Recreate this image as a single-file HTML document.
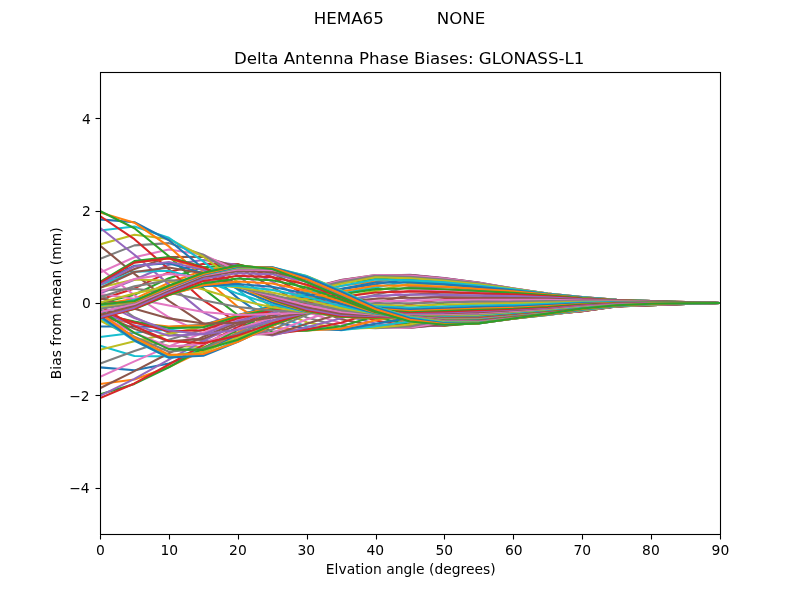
<!DOCTYPE html>
<html lang="en"><head><meta charset="utf-8"><title>Delta Antenna Phase Biases: GLONASS-L1</title>
<style>html,body{margin:0;padding:0;background:#fff;overflow:hidden}svg{display:block}text{font-family:"DejaVu Sans","Liberation Sans",sans-serif;fill:#000;white-space:pre}.s{font-size:13.889px}.b{font-size:16.667px}.ln{fill:none;stroke-width:2.0833;stroke-linejoin:round;stroke-linecap:square}.fr{fill:#000;shape-rendering:crispEdges}</style></head>
<body>
<svg width="800" height="600" viewBox="0 0 800 600">
<rect width="800" height="600" fill="#fff"/>
<defs><clipPath id="ax"><rect x="100" y="72" width="620" height="462"/></clipPath></defs>
<g clip-path="url(#ax)">
<polyline class="ln" stroke="#1f77b4" points="100.00,304.55 134.44,301.01 168.89,285.68 203.33,272.69 237.78,265.39 272.22,268.94 306.67,281.94 341.11,296.76 375.56,311.41 410.00,321.44 444.44,324.75 478.89,323.40 513.33,318.48 547.78,313.61 582.22,308.50 616.67,305.30 651.11,303.72 685.56,303.21 720.00,303.00"/>
<polyline class="ln" stroke="#ff7f0e" points="100.00,304.44 134.44,298.89 168.89,282.72 203.33,270.45 237.78,264.69 272.22,270.74 306.67,285.60 341.11,300.50 375.56,314.19 410.00,323.18 444.44,325.29 478.89,323.22 513.33,318.07 547.78,312.96 582.22,308.00 616.67,305.02 651.11,303.55 685.56,303.12 720.00,303.00"/>
<polyline class="ln" stroke="#2ca02c" points="100.00,303.07 134.44,294.80 168.89,278.17 203.33,267.36 237.78,264.19 272.22,273.38 306.67,290.03 341.11,304.88 375.56,317.33 410.00,324.89 444.44,325.59 478.89,322.75 513.33,317.45 547.78,312.19 582.22,307.48 616.67,304.72 651.11,303.38 685.56,303.03 720.00,303.00"/>
<polyline class="ln" stroke="#d62728" points="100.00,299.61 134.44,288.41 168.89,272.07 203.33,263.71 237.78,264.22 272.22,276.97 306.67,295.09 341.11,309.64 375.56,320.55 410.00,326.39 444.44,325.51 478.89,321.92 513.33,316.59 547.78,311.34 582.22,306.95 616.67,304.41 651.11,303.22 685.56,302.95 720.00,303.00"/>
<polyline class="ln" stroke="#9467bd" points="100.00,293.48 134.44,279.70 168.89,264.80 203.33,259.97 237.78,265.12 272.22,281.57 306.67,300.61 341.11,314.52 375.56,323.53 410.00,327.47 444.44,324.96 478.89,320.70 513.33,315.49 547.78,310.40 582.22,306.39 616.67,304.09 651.11,303.05 685.56,302.87 720.00,303.00"/>
<polyline class="ln" stroke="#8c564b" points="100.00,284.40 134.44,269.06 168.89,256.97 203.33,256.78 237.78,267.21 272.22,287.16 306.67,306.37 341.11,319.20 375.56,325.96 410.00,327.94 444.44,323.85 478.89,319.07 513.33,314.14 547.78,309.41 582.22,305.82 616.67,303.77 651.11,302.90 685.56,302.80 720.00,303.00"/>
<polyline class="ln" stroke="#e377c2" points="100.00,272.61 134.44,257.25 168.89,249.43 203.33,254.80 237.78,270.71 272.22,293.61 306.67,312.09 341.11,323.36 375.56,327.59 410.00,327.65 444.44,322.16 478.89,317.04 513.33,312.56 547.78,308.36 582.22,305.24 616.67,303.45 651.11,302.74 685.56,302.73 720.00,303.00"/>
<polyline class="ln" stroke="#7f7f7f" points="100.00,258.84 134.44,245.35 168.89,243.12 203.33,254.63 237.78,275.73 272.22,300.67 306.67,317.48 341.11,326.72 375.56,328.23 410.00,326.49 444.44,319.89 478.89,314.67 513.33,310.78 547.78,307.28 582.22,304.66 616.67,303.13 651.11,302.59 685.56,302.66 720.00,303.00"/>
<polyline class="ln" stroke="#bcbd22" points="100.00,244.31 134.44,234.67 168.89,239.00 203.33,256.73 237.78,282.16 272.22,308.01 306.67,322.27 341.11,329.05 375.56,327.77 410.00,324.44 444.44,317.09 478.89,312.02 513.33,308.84 547.78,306.17 582.22,304.06 616.67,302.81 651.11,302.45 685.56,302.60 720.00,303.00"/>
<polyline class="ln" stroke="#17becf" points="100.00,230.57 134.44,226.55 168.89,237.86 203.33,261.35 237.78,289.76 272.22,315.22 306.67,326.17 341.11,330.20 375.56,326.22 410.00,321.53 444.44,313.84 478.89,309.20 513.33,306.81 547.78,305.05 582.22,303.47 616.67,302.49 651.11,302.31 685.56,302.55 720.00,303.00"/>
<polyline class="ln" stroke="#1f77b4" points="100.00,219.37 134.44,222.22 168.89,240.27 203.33,268.45 237.78,298.12 272.22,321.84 306.67,328.98 341.11,330.08 375.56,323.69 410.00,317.88 444.44,310.28 478.89,306.30 513.33,304.74 547.78,303.91 582.22,302.87 616.67,302.19 651.11,302.19 685.56,302.50 720.00,303.00"/>
<polyline class="ln" stroke="#ff7f0e" points="100.00,212.39 134.44,222.63 168.89,246.45 203.33,277.73 237.78,306.73 272.22,327.46 306.67,330.52 341.11,328.71 375.56,320.33 410.00,313.63 444.44,306.54 478.89,303.41 513.33,302.71 547.78,302.77 582.22,302.29 616.67,301.89 651.11,302.06 685.56,302.45 720.00,303.00"/>
<polyline class="ln" stroke="#2ca02c" points="100.00,211.00 134.44,228.29 168.89,256.26 203.33,288.63 237.78,315.03 272.22,331.73 306.67,330.72 341.11,326.18 375.56,316.37 410.00,309.00 444.44,302.76 478.89,300.63 513.33,300.77 547.78,301.65 582.22,301.72 616.67,301.60 651.11,301.95 685.56,302.41 720.00,303.00"/>
<polyline class="ln" stroke="#d62728" points="100.00,216.06 134.44,239.17 168.89,269.18 203.33,300.45 237.78,322.51 272.22,334.41 306.67,329.59 341.11,322.65 375.56,312.03 410.00,304.18 444.44,299.07 478.89,298.03 513.33,298.97 547.78,300.56 582.22,301.17 616.67,301.33 651.11,301.84 685.56,302.37 720.00,303.00"/>
<polyline class="ln" stroke="#9467bd" points="100.00,227.75 134.44,254.73 168.89,284.38 203.33,312.36 237.78,328.73 272.22,335.40 306.67,327.23 341.11,318.34 375.56,307.53 410.00,299.39 444.44,295.59 478.89,295.64 513.33,297.34 547.78,299.52 582.22,300.64 616.67,301.07 651.11,301.74 685.56,302.34 720.00,303.00"/>
<polyline class="ln" stroke="#8c564b" points="100.00,245.55 134.44,273.93 168.89,300.81 203.33,323.57 237.78,333.42 272.22,334.78 306.67,323.81 341.11,313.47 375.56,303.06 410.00,294.81 444.44,292.38 478.89,293.49 513.33,295.90 547.78,298.54 582.22,300.14 616.67,300.84 651.11,301.64 685.56,302.31 720.00,303.00"/>
<polyline class="ln" stroke="#e377c2" points="100.00,268.20 134.44,295.32 168.89,317.30 203.33,333.39 237.78,336.46 272.22,332.75 306.67,319.57 341.11,308.31 375.56,298.73 410.00,290.59 444.44,289.51 478.89,291.56 513.33,294.65 547.78,297.65 582.22,299.67 616.67,300.64 651.11,301.55 685.56,302.28 720.00,303.00"/>
<polyline class="ln" stroke="#7f7f7f" points="100.00,293.90 134.44,317.25 168.89,332.70 203.33,341.28 237.78,337.89 272.22,329.63 306.67,314.81 341.11,303.09 375.56,294.65 410.00,286.83 444.44,286.98 478.89,289.86 513.33,293.58 547.78,296.84 582.22,299.23 616.67,300.47 651.11,301.46 685.56,302.26 720.00,303.00"/>
<polyline class="ln" stroke="#bcbd22" points="100.00,320.48 134.44,338.02 168.89,346.00 203.33,346.94 237.78,337.90 272.22,325.79 306.67,309.83 341.11,298.05 375.56,290.86 410.00,283.59 444.44,284.80 478.89,288.33 513.33,292.65 547.78,296.14 582.22,298.82 616.67,300.32 651.11,301.37 685.56,302.23 720.00,303.00"/>
<polyline class="ln" stroke="#17becf" points="100.00,345.67 134.44,356.08 168.89,356.41 203.33,350.25 237.78,336.78 272.22,321.66 306.67,304.93 341.11,293.39 375.56,287.38 410.00,280.89 444.44,282.94 478.89,286.98 513.33,291.83 547.78,295.54 582.22,298.44 616.67,300.20 651.11,301.29 685.56,302.22 720.00,303.00"/>
<polyline class="ln" stroke="#1f77b4" points="100.00,367.38 134.44,370.20 168.89,363.47 203.33,351.36 237.78,334.84 272.22,317.60 306.67,300.38 341.11,289.26 375.56,284.22 410.00,278.72 444.44,281.39 478.89,285.77 513.33,291.11 547.78,295.04 582.22,298.10 616.67,300.11 651.11,301.21 685.56,302.20 720.00,303.00"/>
<polyline class="ln" stroke="#ff7f0e" points="100.00,383.95 134.44,379.58 168.89,367.01 203.33,350.54 237.78,332.42 272.22,313.93 306.67,296.42 341.11,285.79 375.56,281.42 410.00,277.06 444.44,280.13 478.89,284.71 513.33,290.44 547.78,294.62 582.22,297.80 616.67,300.03 651.11,301.15 685.56,302.19 720.00,303.00"/>
<polyline class="ln" stroke="#2ca02c" points="100.00,394.32 134.44,383.92 168.89,367.22 203.33,348.20 237.78,329.78 272.22,310.84 306.67,293.20 341.11,283.09 375.56,279.01 410.00,275.87 444.44,279.16 478.89,283.82 513.33,289.84 547.78,294.28 582.22,297.55 616.67,299.97 651.11,301.09 685.56,302.17 720.00,303.00"/>
<polyline class="ln" stroke="#d62728" points="100.00,398.15 134.44,383.45 168.89,364.53 203.33,344.80 237.78,327.14 272.22,308.46 306.67,290.85 341.11,281.20 375.56,277.07 410.00,275.15 444.44,278.49 478.89,283.14 513.33,289.30 547.78,294.01 582.22,297.34 616.67,299.92 651.11,301.04 685.56,302.16 720.00,303.00"/>
<polyline class="ln" stroke="#9467bd" points="100.00,395.79 134.44,378.83 168.89,359.63 203.33,340.81 237.78,324.61 272.22,306.77 306.67,289.39 341.11,280.14 375.56,275.70 410.00,274.86 444.44,278.15 478.89,282.70 513.33,288.85 547.78,293.79 582.22,297.19 616.67,299.88 651.11,301.01 685.56,302.16 720.00,303.00"/>
<polyline class="ln" stroke="#8c564b" points="100.00,388.23 134.44,371.07 168.89,353.29 203.33,336.67 237.78,322.28 272.22,305.72 306.67,288.81 341.11,279.92 375.56,274.97 410.00,275.02 444.44,278.17 478.89,282.55 513.33,288.52 547.78,293.63 582.22,297.09 616.67,299.86 651.11,301.00 685.56,302.15 720.00,303.00"/>
<polyline class="ln" stroke="#e377c2" points="100.00,376.92 134.44,361.38 168.89,346.37 203.33,332.75 237.78,320.17 272.22,305.20 306.67,289.04 341.11,280.49 375.56,274.98 410.00,275.63 444.44,278.59 478.89,282.74 513.33,288.37 547.78,293.54 582.22,297.06 616.67,299.84 651.11,301.00 685.56,302.15 720.00,303.00"/>
<polyline class="ln" stroke="#7f7f7f" points="100.00,363.53 134.44,351.02 168.89,339.66 203.33,329.38 237.78,318.32 272.22,305.10 306.67,289.98 341.11,281.77 375.56,275.76 410.00,276.70 444.44,279.42 478.89,283.29 513.33,288.42 547.78,293.52 582.22,297.09 616.67,299.83 651.11,301.02 685.56,302.15 720.00,303.00"/>
<polyline class="ln" stroke="#bcbd22" points="100.00,349.75 134.44,341.17 168.89,333.87 203.33,326.79 237.78,316.78 272.22,305.33 306.67,291.50 341.11,283.66 375.56,277.31 410.00,278.22 444.44,280.68 478.89,284.21 513.33,288.73 547.78,293.59 582.22,297.20 616.67,299.85 651.11,301.06 685.56,302.16 720.00,303.00"/>
<polyline class="ln" stroke="#17becf" points="100.00,337.05 134.44,332.78 168.89,329.55 203.33,325.17 237.78,315.65 272.22,305.82 306.67,293.46 341.11,286.02 375.56,279.57 410.00,280.19 444.44,282.35 478.89,285.50 513.33,289.32 547.78,293.79 582.22,297.38 616.67,299.88 651.11,301.11 685.56,302.17 720.00,303.00"/>
<polyline class="ln" stroke="#1f77b4" points="100.00,326.54 134.44,326.54 168.89,327.06 203.33,324.67 237.78,315.07 272.22,306.59 306.67,295.72 341.11,288.70 375.56,282.41 410.00,282.56 444.44,284.39 478.89,287.11 513.33,290.19 547.78,294.14 582.22,297.64 616.67,299.95 651.11,301.17 685.56,302.18 720.00,303.00"/>
<polyline class="ln" stroke="#ff7f0e" points="100.00,318.85 134.44,322.77 168.89,326.58 203.33,325.34 237.78,315.20 272.22,307.64 306.67,298.15 341.11,291.54 375.56,285.67 410.00,285.27 444.44,286.73 478.89,288.99 513.33,291.35 547.78,294.65 582.22,297.97 616.67,300.05 651.11,301.25 685.56,302.20 720.00,303.00"/>
<polyline class="ln" stroke="#2ca02c" points="100.00,314.14 134.44,321.50 168.89,328.06 203.33,327.22 237.78,316.18 272.22,309.03 306.67,300.62 341.11,294.38 375.56,289.13 410.00,288.25 444.44,289.30 478.89,291.07 513.33,292.76 547.78,295.34 582.22,298.38 616.67,300.19 651.11,301.34 685.56,302.22 720.00,303.00"/>
<polyline class="ln" stroke="#d62728" points="100.00,312.13 134.44,322.45 168.89,331.27 203.33,330.23 237.78,318.11 272.22,310.80 306.67,303.02 341.11,297.08 375.56,292.58 410.00,291.38 444.44,291.99 478.89,293.26 513.33,294.37 547.78,296.21 582.22,298.85 616.67,300.36 651.11,301.43 685.56,302.24 720.00,303.00"/>
<polyline class="ln" stroke="#9467bd" points="100.00,312.21 134.44,325.12 168.89,335.82 203.33,334.20 237.78,320.98 272.22,312.93 306.67,305.26 341.11,299.51 375.56,295.84 410.00,294.55 444.44,294.72 478.89,295.50 513.33,296.13 547.78,297.25 582.22,299.38 616.67,300.58 651.11,301.54 685.56,302.28 720.00,303.00"/>
<polyline class="ln" stroke="#8c564b" points="100.00,313.60 134.44,328.86 168.89,341.19 203.33,338.85 237.78,324.64 272.22,315.36 306.67,307.26 341.11,301.60 375.56,298.77 410.00,297.67 444.44,297.40 478.89,297.71 513.33,297.98 547.78,298.43 582.22,299.96 616.67,300.83 651.11,301.65 685.56,302.32 720.00,303.00"/>
<polyline class="ln" stroke="#e377c2" points="100.00,315.46 134.44,332.97 168.89,346.74 203.33,343.79 237.78,328.84 272.22,317.96 306.67,308.99 341.11,303.32 375.56,301.27 410.00,300.62 444.44,299.95 478.89,299.83 513.33,299.84 547.78,299.72 582.22,300.58 616.67,301.11 651.11,301.77 685.56,302.36 720.00,303.00"/>
<polyline class="ln" stroke="#7f7f7f" points="100.00,317.06 134.44,336.73 168.89,351.80 203.33,348.52 237.78,333.17 272.22,320.53 306.67,310.39 341.11,304.67 375.56,303.33 410.00,303.34 444.44,302.32 478.89,301.83 513.33,301.66 547.78,301.06 582.22,301.24 616.67,301.42 651.11,301.91 685.56,302.41 720.00,303.00"/>
<polyline class="ln" stroke="#bcbd22" points="100.00,317.86 134.44,339.51 168.89,355.68 203.33,352.46 237.78,337.12 272.22,322.84 306.67,311.47 341.11,305.72 375.56,305.00 410.00,305.77 444.44,304.49 478.89,303.70 513.33,303.38 547.78,302.42 582.22,301.92 616.67,301.75 651.11,302.05 685.56,302.47 720.00,303.00"/>
<polyline class="ln" stroke="#17becf" points="100.00,317.54 134.44,340.80 168.89,357.77 203.33,355.04 237.78,340.18 272.22,324.64 306.67,312.22 341.11,306.55 375.56,306.37 410.00,307.87 444.44,306.44 478.89,305.42 513.33,304.98 547.78,303.74 582.22,302.61 616.67,302.10 651.11,302.20 685.56,302.53 720.00,303.00"/>
<polyline class="ln" stroke="#1f77b4" points="100.00,316.02 134.44,340.24 168.89,357.56 203.33,355.71 237.78,341.85 272.22,325.69 306.67,312.69 341.11,307.26 375.56,307.56 410.00,309.66 444.44,308.18 478.89,307.00 513.33,306.43 547.78,304.99 582.22,303.29 616.67,302.46 651.11,302.37 685.56,302.60 720.00,303.00"/>
<polyline class="ln" stroke="#ff7f0e" points="100.00,313.42 134.44,337.62 168.89,354.73 203.33,354.06 237.78,341.75 272.22,325.85 306.67,312.91 341.11,307.95 375.56,308.68 410.00,311.14 444.44,309.74 478.89,308.46 513.33,307.72 547.78,306.13 582.22,303.97 616.67,302.82 651.11,302.55 685.56,302.68 720.00,303.00"/>
<polyline class="ln" stroke="#2ca02c" points="100.00,309.99 134.44,332.93 168.89,349.14 203.33,349.87 237.78,339.67 272.22,325.02 306.67,312.95 341.11,308.71 375.56,309.85 410.00,312.36 444.44,311.13 478.89,309.80 513.33,308.87 547.78,307.15 582.22,304.62 616.67,303.19 651.11,302.73 685.56,302.76 720.00,303.00"/>
<polyline class="ln" stroke="#d62728" points="100.00,306.04 134.44,326.33 168.89,340.94 203.33,343.16 237.78,335.62 272.22,323.24 306.67,312.86 341.11,309.61 375.56,311.11 410.00,313.35 444.44,312.37 478.89,311.05 513.33,309.88 547.78,308.03 582.22,305.25 616.67,303.55 651.11,302.92 685.56,302.84 720.00,303.00"/>
<polyline class="ln" stroke="#9467bd" points="100.00,301.90 134.44,318.10 168.89,330.49 203.33,334.22 237.78,329.84 272.22,320.64 306.67,312.70 341.11,310.65 375.56,312.46 410.00,314.14 444.44,313.49 478.89,312.21 513.33,310.78 547.78,308.79 582.22,305.84 616.67,303.91 651.11,303.11 685.56,302.93 720.00,303.00"/>
<polyline class="ln" stroke="#8c564b" points="100.00,297.81 134.44,308.72 168.89,318.40 203.33,323.59 237.78,322.75 272.22,317.46 306.67,312.54 341.11,311.82 375.56,313.87 410.00,314.78 444.44,314.49 478.89,313.27 513.33,311.57 547.78,309.44 582.22,306.39 616.67,304.25 651.11,303.31 685.56,303.03 720.00,303.00"/>
<polyline class="ln" stroke="#e377c2" points="100.00,293.98 134.44,298.74 168.89,305.47 203.33,312.00 237.78,314.94 272.22,313.98 306.67,312.39 341.11,313.06 375.56,315.24 410.00,315.28 444.44,315.38 478.89,314.24 513.33,312.29 547.78,309.99 582.22,306.89 616.67,304.59 651.11,303.51 685.56,303.12 720.00,303.00"/>
<polyline class="ln" stroke="#7f7f7f" points="100.00,290.52 134.44,288.81 168.89,292.60 203.33,300.33 237.78,307.07 272.22,310.50 306.67,312.27 341.11,314.28 375.56,316.46 410.00,315.68 444.44,316.15 478.89,315.11 513.33,312.94 547.78,310.47 582.22,307.35 616.67,304.90 651.11,303.70 685.56,303.22 720.00,303.00"/>
<polyline class="ln" stroke="#bcbd22" points="100.00,287.52 134.44,279.58 168.89,280.72 203.33,289.47 237.78,299.77 272.22,307.29 306.67,312.17 341.11,315.37 375.56,317.43 410.00,315.98 444.44,316.80 478.89,315.88 513.33,313.53 547.78,310.90 582.22,307.77 616.67,305.19 651.11,303.89 685.56,303.32 720.00,303.00"/>
<polyline class="ln" stroke="#17becf" points="100.00,285.06 134.44,271.72 168.89,270.67 203.33,280.21 237.78,293.60 272.22,304.56 306.67,312.06 341.11,316.24 375.56,318.06 410.00,316.21 444.44,317.35 478.89,316.55 513.33,314.05 547.78,311.30 582.22,308.15 616.67,305.46 651.11,304.08 685.56,303.42 720.00,303.00"/>
<polyline class="ln" stroke="#1f77b4" points="100.00,283.23 134.44,265.77 168.89,263.13 203.33,273.18 237.78,288.92 272.22,302.42 306.67,311.87 341.11,316.79 375.56,318.31 410.00,316.38 444.44,317.79 478.89,317.11 513.33,314.52 547.78,311.67 582.22,308.50 616.67,305.69 651.11,304.26 685.56,303.51 720.00,303.00"/>
<polyline class="ln" stroke="#ff7f0e" points="100.00,282.16 134.44,262.15 168.89,258.52 203.33,268.72 237.78,285.89 272.22,300.87 306.67,311.53 341.11,316.96 375.56,318.19 410.00,316.50 444.44,318.13 478.89,317.59 513.33,314.93 547.78,312.01 582.22,308.82 616.67,305.88 651.11,304.43 685.56,303.60 720.00,303.00"/>
<polyline class="ln" stroke="#2ca02c" points="100.00,281.98 134.44,261.10 168.89,256.97 203.33,266.89 237.78,284.42 272.22,299.81 306.67,310.97 341.11,316.71 375.56,317.75 410.00,316.60 444.44,318.41 478.89,318.00 513.33,315.28 547.78,312.33 582.22,309.12 616.67,306.03 651.11,304.60 685.56,303.68 720.00,303.00"/>
<polyline class="ln" stroke="#d62728" points="100.00,282.85 134.44,262.60 168.89,258.31 203.33,267.44 237.78,284.26 272.22,299.06 306.67,310.10 341.11,316.05 375.56,317.08 410.00,316.70 444.44,318.64 478.89,318.35 513.33,315.58 547.78,312.63 582.22,309.41 616.67,306.14 651.11,304.75 685.56,303.76 720.00,303.00"/>
<polyline class="ln" stroke="#9467bd" points="100.00,284.86 134.44,266.41 168.89,262.05 203.33,269.85 237.78,284.98 272.22,298.39 306.67,308.88 341.11,315.00 375.56,316.30 410.00,316.81 444.44,318.85 478.89,318.67 513.33,315.83 547.78,312.89 582.22,309.68 616.67,306.23 651.11,304.89 685.56,303.82 720.00,303.00"/>
<polyline class="ln" stroke="#8c564b" points="100.00,288.01 134.44,272.07 168.89,267.51 203.33,273.45 237.78,286.07 272.22,297.57 306.67,307.26 341.11,313.63 375.56,315.52 410.00,316.95 444.44,319.06 478.89,318.97 513.33,316.04 547.78,313.12 582.22,309.94 616.67,306.28 651.11,305.01 685.56,303.88 720.00,303.00"/>
<polyline class="ln" stroke="#e377c2" points="100.00,292.20 134.44,278.96 168.89,273.88 203.33,277.48 237.78,287.06 272.22,296.40 306.67,305.23 341.11,311.98 375.56,314.82 410.00,317.12 444.44,319.28 478.89,319.27 513.33,316.21 547.78,313.32 582.22,310.20 616.67,306.30 651.11,305.12 685.56,303.92 720.00,303.00"/>
<polyline class="ln" stroke="#7f7f7f" points="100.00,297.16 134.44,286.35 168.89,280.33 203.33,281.22 237.78,287.54 272.22,294.74 306.67,302.81 341.11,310.13 375.56,314.25 410.00,317.30 444.44,319.51 478.89,319.56 513.33,316.37 547.78,313.49 582.22,310.43 616.67,306.32 651.11,305.20 685.56,303.95 720.00,303.00"/>
<polyline class="ln" stroke="#bcbd22" points="100.00,302.49 134.44,293.48 168.89,286.11 203.33,284.11 237.78,287.24 272.22,292.55 306.67,300.06 341.11,308.12 375.56,313.82 410.00,317.48 444.44,319.75 478.89,319.85 513.33,316.53 547.78,313.64 582.22,310.65 616.67,306.32 651.11,305.26 685.56,303.97 720.00,303.00"/>
<polyline class="ln" stroke="#17becf" points="100.00,307.70 134.44,299.69 168.89,290.65 203.33,285.77 237.78,286.06 272.22,289.87 306.67,297.05 341.11,306.01 375.56,313.48 410.00,317.61 444.44,319.99 478.89,320.14 513.33,316.69 547.78,313.79 582.22,310.84 616.67,306.33 651.11,305.29 685.56,303.98 720.00,303.00"/>
<polyline class="ln" stroke="#1f77b4" points="100.00,312.27 134.44,304.49 168.89,293.63 203.33,286.09 237.78,284.07 272.22,286.80 306.67,293.88 341.11,303.84 375.56,313.15 410.00,317.68 444.44,320.22 478.89,320.41 513.33,316.86 547.78,313.94 582.22,310.99 616.67,306.33 651.11,305.29 685.56,303.98 720.00,303.00"/>
<polyline class="ln" stroke="#ff7f0e" points="100.00,315.73 134.44,307.59 168.89,294.99 203.33,285.19 237.78,281.48 272.22,283.53 306.67,290.64 341.11,301.62 375.56,312.73 410.00,317.66 444.44,320.41 478.89,320.67 513.33,317.05 547.78,314.10 582.22,311.10 616.67,306.34 651.11,305.26 685.56,303.96 720.00,303.00"/>
<polyline class="ln" stroke="#2ca02c" points="100.00,317.75 134.44,308.97 168.89,294.93 203.33,283.37 237.78,278.58 272.22,280.24 306.67,287.46 341.11,299.40 375.56,312.17 410.00,317.53 444.44,320.58 478.89,320.91 513.33,317.26 547.78,314.27 582.22,311.15 616.67,306.35 651.11,305.21 685.56,303.93 720.00,303.00"/>
<polyline class="ln" stroke="#d62728" points="100.00,318.19 134.44,308.85 168.89,293.83 203.33,281.07 237.78,275.69 272.22,277.12 306.67,284.46 341.11,297.23 375.56,311.40 410.00,317.31 444.44,320.73 478.89,321.14 513.33,317.49 547.78,314.46 582.22,311.15 616.67,306.35 651.11,305.12 685.56,303.89 720.00,303.00"/>
<polyline class="ln" stroke="#9467bd" points="100.00,317.16 134.44,307.64 168.89,292.16 203.33,278.74 237.78,273.09 272.22,274.33 306.67,281.75 341.11,295.17 375.56,310.44 410.00,317.04 444.44,320.88 478.89,321.38 513.33,317.74 547.78,314.64 582.22,311.08 616.67,306.35 651.11,305.01 685.56,303.84 720.00,303.00"/>
<polyline class="ln" stroke="#8c564b" points="100.00,314.97 134.44,305.85 168.89,290.41 203.33,276.75 237.78,270.97 272.22,271.97 306.67,279.43 341.11,293.32 375.56,309.36 410.00,316.79 444.44,321.05 478.89,321.62 513.33,317.98 547.78,314.81 582.22,310.94 616.67,306.33 651.11,304.88 685.56,303.78 720.00,303.00"/>
<polyline class="ln" stroke="#e377c2" points="100.00,312.12 134.44,304.01 168.89,288.98 203.33,275.37 237.78,269.39 272.22,270.09 306.67,277.62 341.11,291.79 375.56,308.29 410.00,316.62 444.44,321.29 478.89,321.89 513.33,318.22 547.78,314.93 582.22,310.75 616.67,306.29 651.11,304.73 685.56,303.72 720.00,303.00"/>
<polyline class="ln" stroke="#7f7f7f" points="100.00,309.17 134.44,302.56 168.89,288.09 203.33,274.66 237.78,268.33 272.22,268.71 306.67,276.41 341.11,290.74 375.56,307.41 410.00,316.64 444.44,321.63 478.89,322.19 513.33,318.44 547.78,314.98 582.22,310.49 616.67,306.22 651.11,304.57 685.56,303.64 720.00,303.00"/>
<polyline class="ln" stroke="#bcbd22" points="100.00,306.66 134.44,301.72 168.89,287.76 203.33,274.48 237.78,267.64 272.22,267.79 306.67,275.89 341.11,290.29 375.56,306.92 410.00,316.92 444.44,322.09 478.89,322.52 513.33,318.63 547.78,314.95 582.22,310.18 616.67,306.11 651.11,304.41 685.56,303.56 720.00,303.00"/>
<polyline class="ln" stroke="#17becf" points="100.00,304.96 134.44,301.52 168.89,287.78 203.33,274.56 237.78,267.15 272.22,267.34 306.67,276.13 341.11,290.60 375.56,306.97 410.00,317.54 444.44,322.66 478.89,322.84 513.33,318.75 547.78,314.81 582.22,309.82 616.67,305.96 651.11,304.24 685.56,303.48 720.00,303.00"/>
<polyline class="ln" stroke="#1f77b4" points="100.00,304.21 134.44,301.67 168.89,287.76 203.33,274.52 237.78,266.67 272.22,267.34 306.67,277.20 341.11,291.76 375.56,307.72 410.00,318.52 444.44,323.34 478.89,323.14 513.33,318.79 547.78,314.54 582.22,309.41 616.67,305.77 651.11,304.06 685.56,303.39 720.00,303.00"/>
<polyline class="ln" stroke="#ff7f0e" points="100.00,304.23 134.44,301.71 168.89,287.23 203.33,274.00 237.78,266.09 272.22,267.85 306.67,279.13 341.11,293.82 375.56,309.21 410.00,319.85 444.44,324.06 478.89,323.34 513.33,318.71 547.78,314.14 582.22,308.97 616.67,305.55 651.11,303.89 685.56,303.30 720.00,303.00"/>
<polyline class="ln" stroke="#2ca02c" points="100.00,304.55 134.44,301.01 168.89,285.68 203.33,272.69 237.78,265.39 272.22,268.94 306.67,281.94 341.11,296.76 375.56,311.41 410.00,321.44 444.44,324.75 478.89,323.40 513.33,318.48 547.78,313.61 582.22,308.50 616.67,305.30 651.11,303.72 685.56,303.21 720.00,303.00"/>
</g>
<g class="fr">
<rect x="100" y="72" width="1" height="463"/><rect x="720" y="72" width="1" height="463"/>
<rect x="100" y="72" width="621" height="1"/><rect x="100" y="534" width="621" height="1"/>
<rect x="100" y="535" width="1" height="4"/>
<rect x="169" y="535" width="1" height="4"/>
<rect x="238" y="535" width="1" height="4"/>
<rect x="307" y="535" width="1" height="4"/>
<rect x="376" y="535" width="1" height="4"/>
<rect x="444" y="535" width="1" height="4"/>
<rect x="513" y="535" width="1" height="4"/>
<rect x="582" y="535" width="1" height="4"/>
<rect x="651" y="535" width="1" height="4"/>
<rect x="720" y="535" width="1" height="4"/>
<rect x="96" y="118" width="4" height="1"/>
<rect x="96" y="211" width="4" height="1"/>
<rect x="96" y="303" width="4" height="1"/>
<rect x="96" y="395" width="4" height="1"/>
<rect x="96" y="488" width="4" height="1"/>
</g>
<g fill="#000" fill-opacity="0.055" shape-rendering="crispEdges">
<rect x="99" y="72" width="1" height="463"/><rect x="101" y="73" width="1" height="461"/>
<rect x="719" y="73" width="1" height="461"/><rect x="721" y="72" width="1" height="463"/>
<rect x="100" y="71" width="621" height="1"/><rect x="101" y="73" width="619" height="1"/>
<rect x="101" y="533" width="619" height="1"/><rect x="100" y="535" width="621" height="1"/>
<rect x="99" y="536" width="1" height="3"/><rect x="101" y="536" width="1" height="3"/>
<rect x="168" y="536" width="1" height="3"/><rect x="170" y="536" width="1" height="3"/>
<rect x="237" y="536" width="1" height="3"/><rect x="239" y="536" width="1" height="3"/>
<rect x="306" y="536" width="1" height="3"/><rect x="308" y="536" width="1" height="3"/>
<rect x="375" y="536" width="1" height="3"/><rect x="377" y="536" width="1" height="3"/>
<rect x="443" y="536" width="1" height="3"/><rect x="445" y="536" width="1" height="3"/>
<rect x="512" y="536" width="1" height="3"/><rect x="514" y="536" width="1" height="3"/>
<rect x="581" y="536" width="1" height="3"/><rect x="583" y="536" width="1" height="3"/>
<rect x="650" y="536" width="1" height="3"/><rect x="652" y="536" width="1" height="3"/>
<rect x="719" y="536" width="1" height="3"/><rect x="721" y="536" width="1" height="3"/>
<rect x="96" y="117" width="3" height="1"/><rect x="96" y="119" width="3" height="1"/>
<rect x="96" y="210" width="3" height="1"/><rect x="96" y="212" width="3" height="1"/>
<rect x="96" y="302" width="3" height="1"/><rect x="96" y="304" width="3" height="1"/>
<rect x="96" y="394" width="3" height="1"/><rect x="96" y="396" width="3" height="1"/>
<rect x="96" y="487" width="3" height="1"/><rect x="96" y="489" width="3" height="1"/>
</g>
<g fill="#000" fill-opacity="0.5" shape-rendering="crispEdges">
<rect x="100" y="539" width="1" height="1"/>
<rect x="169" y="539" width="1" height="1"/>
<rect x="238" y="539" width="1" height="1"/>
<rect x="307" y="539" width="1" height="1"/>
<rect x="376" y="539" width="1" height="1"/>
<rect x="444" y="539" width="1" height="1"/>
<rect x="513" y="539" width="1" height="1"/>
<rect x="582" y="539" width="1" height="1"/>
<rect x="651" y="539" width="1" height="1"/>
<rect x="720" y="539" width="1" height="1"/>
<rect x="95" y="118" width="1" height="1"/>
<rect x="95" y="211" width="1" height="1"/>
<rect x="95" y="303" width="1" height="1"/>
<rect x="95" y="395" width="1" height="1"/>
<rect x="95" y="488" width="1" height="1"/>
</g>
<text class="s" text-anchor="middle" x="100.35" y="555.24">0</text>
<text class="s" text-anchor="middle" x="169.39" y="555.12">10</text>
<text class="s" text-anchor="middle" x="237.94" y="555.12">20</text>
<text class="s" text-anchor="middle" x="306.32" y="555.09">30</text>
<text class="s" text-anchor="middle" x="375.39" y="555.03">40</text>
<text class="s" text-anchor="middle" x="444.39" y="555.26">50</text>
<text class="s" text-anchor="middle" x="513.89" y="555.30">60</text>
<text class="s" text-anchor="middle" x="582.23" y="555.30">70</text>
<text class="s" text-anchor="middle" x="650.95" y="555.21">80</text>
<text class="s" text-anchor="middle" x="720.40" y="555.15">90</text>
<text class="s" text-anchor="end" x="89.64" y="493.23">−4</text>
<text class="s" text-anchor="end" x="89.62" y="400.95">−2</text>
<text class="s" text-anchor="end" x="90.87" y="307.84">0</text>
<text class="s" text-anchor="end" x="90.89" y="216.15">2</text>
<text class="s" text-anchor="end" x="90.78" y="123.60">4</text>
<text class="s" text-anchor="middle" x="410.78" y="573.59">Elvation angle (degrees)</text>
<text class="s" text-anchor="middle" transform="translate(60.62,303.23) rotate(-90)">Bias from mean (mm)</text>
<text class="b" text-anchor="middle" transform="translate(409.15,63.75) scale(1,1)">Delta Antenna Phase Biases: GLONASS-L1</text>
<text class="b" text-anchor="middle" transform="translate(399.55,23.60) scale(1,1)">HEMA65          NONE</text>
</svg>
</body></html>
